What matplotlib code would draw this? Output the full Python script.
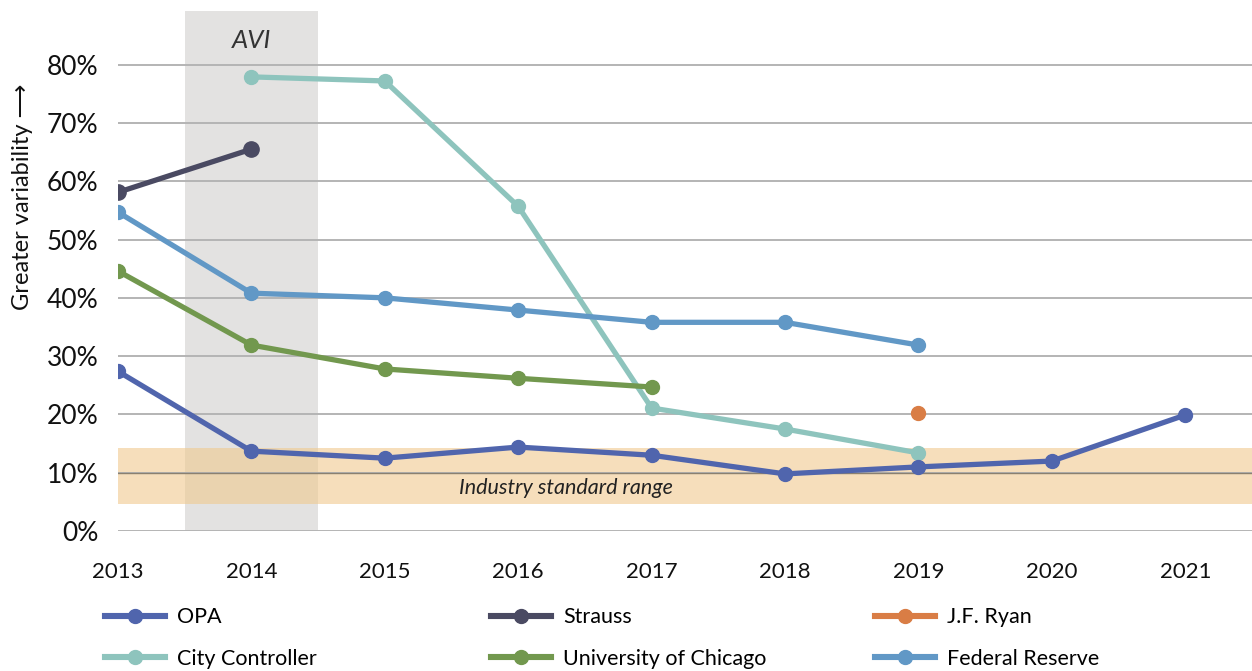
import matplotlib

matplotlib.use("Agg")
import matplotlib.pyplot as plt
from matplotlib.ticker import FuncFormatter

plt.rcParams["font.family"] = ["Lato", "DejaVu Sans"]

years = [2013, 2014, 2015, 2016, 2017, 2018, 2019, 2020, 2021]

opa_years = [2013, 2014, 2015, 2016, 2017, 2018, 2019, 2020, 2021]
opa = [27.4, 13.7, 12.5, 14.4, 13.0, 9.8, 11.0, 12.0, 19.9]

strauss_years = [2013, 2014]
strauss = [58.1, 65.5]

ryan_years = [2019]
ryan = [20.2]

controller_years = [2014, 2015, 2016, 2017, 2018, 2019]
controller = [77.9, 77.2, 55.7, 21.1, 17.5, 13.4]

uchicago_years = [2013, 2014, 2015, 2016, 2017]
uchicago = [44.6, 31.9, 27.8, 26.2, 24.7]

fed_years = [2013, 2014, 2015, 2016, 2017, 2018, 2019]
fed = [54.7, 40.8, 40.0, 37.9, 35.8, 35.8, 31.9]

industry_range = (4.6, 14.3)
avi_span = (2013.5, 2014.5)

fig = plt.figure(figsize=(12.52, 6.71), dpi=100)
ax = fig.add_axes([0.0942, 0.2086, 0.9058, 0.775])

ax.set_xlim(2013, 2021.5)
ax.set_ylim(0, 89.2)

ax.axvspan(*avi_span, color="#e3e2e1", zorder=0, lw=0)
ax.axhspan(*industry_range, color="#f0c98e", alpha=0.6, zorder=0.5, lw=0)
for v in range(0, 90, 10):
    ax.axhline(v, color="#b4b4b4", lw=1.4, zorder=1)
ax.axhline(10, color="#8a8070", lw=1.0, zorder=1.1)

lw = 3.8
ms = 10
h_opa, = ax.plot(opa_years, opa, "-o", color="#5065ad", lw=lw, ms=ms, zorder=3, label="OPA")
h_str, = ax.plot(strauss_years, strauss, "-o", color="#4a4a62", lw=lw, ms=ms + 1, zorder=3, label="Strauss")
h_ryan, = ax.plot(ryan_years, ryan, "o", color="#d97d45", ms=ms, zorder=3, label="J.F. Ryan")
h_cc, = ax.plot(controller_years, controller, "-o", color="#8ec4bd", lw=lw, ms=ms, zorder=2.5, label="City Controller")
h_uc, = ax.plot(uchicago_years, uchicago, "-o", color="#72984e", lw=lw, ms=ms, zorder=3, label="University of Chicago")
h_fed, = ax.plot(fed_years, fed, "-o", color="#6198c6", lw=lw, ms=ms, zorder=3, label="Federal Reserve")

ax.text(2014, 84.2, "AVI", ha="center", va="center", fontsize=18.5, style="italic", color="#333333")
ax.text(2016.36, 7.3, "Industry standard range", ha="center", va="center", fontsize=15.5,
        style="italic", color="#222222", zorder=4)

ax.set_xticks(years)
ax.set_yticks(range(0, 81, 10))
ax.yaxis.set_major_formatter(FuncFormatter(lambda v, _: f"{int(v)}%"))
ax.tick_params(axis="y", labelsize=19, length=0, pad=14, labelcolor="#111111")
ax.tick_params(axis="x", labelsize=16, length=0, pad=22, labelcolor="#111111")
for s in ax.spines.values():
    s.set_visible(False)

fig.text(0.018, 0.707, "Greater variability \u27f6", rotation=90, ha="center", va="center",
         fontsize=17, color="#111111")

# legend: three fixed columns
cols = [([h_opa, h_cc], 0.084), ([h_str, h_uc], 0.392), ([h_ryan, h_fed], 0.699)]
for handles, x0 in cols:
    leg = fig.legend(handles=handles, loc="upper left", bbox_to_anchor=(x0, 0.095),
                     frameon=False, fontsize=15.5, handlelength=2.8, handletextpad=0.55,
                     labelspacing=1.0, borderaxespad=0, borderpad=0)
    for line in leg.get_lines():
        line.set_linewidth(lw + 0.6)
        line.set_linestyle("-")
        line.set_markersize(10)

fig.savefig("out.png", dpi=100)
